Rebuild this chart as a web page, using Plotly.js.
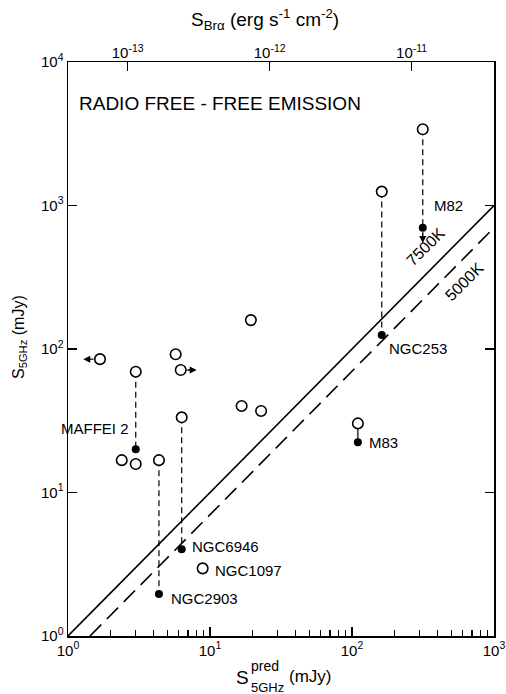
<!DOCTYPE html>
<html>
<head>
<meta charset="utf-8">
<script src="https://cdn.plot.ly/plotly-3.0.1.min.js"></script>
<style>html,body{margin:0;padding:0;background:#fff;}#chart{width:506px;height:694px;}</style>
</head>
<body>
<div id="chart"></div>
<script>
// ---- data ----
// open circles: predicted / observed pairs and single galaxies
const openX = [1.68, 3.0, 2.39, 3.0, 4.37, 6.32, 5.73, 6.22, 8.88, 16.7, 22.9, 19.4, 315, 162, 110];
const openY = [85, 69.5, 16.8, 15.8, 16.8, 33.4, 91.9, 71.4, 2.96, 40.1, 37.0, 159, 3400, 1250, 30.3];
// filled circles (corrected values) for named galaxies
const namedGal = ["MAFFEI 2", "NGC2903", "NGC6946", "M82", "NGC253", "M83"];
const filledX = [3.0, 4.37, 6.32, 315, 162, 110];
const filledY = [20.0, 1.96, 4.02, 700, 125, 22.4];
const filledFromOpenY = [69.5, 16.8, 33.4, 3400, 1250, 30.3];
const connectorDash = ["dash", "dash", "dash", "dash", "dash", "solid"];
// label for an open circle without a filled counterpart
const openLabelName = "NGC1097";
const openLabelX = 8.88, openLabelY = 2.96;
// limits (arrows)
const limitX = [1.68, 6.22, 315];
const limitY = [85, 71.4, 700];
const limitTipX = [1.28, 8.06, 315];
const limitTipY = [85, 71.4, 548];
// model lines
const modelX = [1, 1000];
const modelRatio = [1.0, 0.7];   // 7500 K, 5000 K
const modelName = ["7500K", "5000K"];
// tick labels
const xTickVals = [1, 10, 100, 1000];
const xTickText = ["10<sup>0</sup>", "10<sup>1</sup>", "10<sup>2</sup>", "10<sup>3</sup>"];
const yTickVals = [1, 10, 100, 1000, 10000];
const yTickText = ["10<sup>0</sup>", "10<sup>1</sup>", "10<sup>2</sup>", "10<sup>3</sup>", "10<sup>4</sup>"];
const topTickVals = [1e-13, 1e-12, 1e-11];
const topTickText = ["10<sup>-13</sup>", "10<sup>-12</sup>", "10<sup>-11</sup>"];
const xMinor = [2,3,4,5,6,7,8,9,20,30,40,50,60,70,80,90,200,300,400,500,600,700,800,900];

// ---- build ----
const FONT = "Liberation Sans, Arial, sans-serif";
const traces = [];
modelRatio.forEach((r, i) => {
  const x0 = Math.max(modelX[0], modelX[0] / r);
  traces.push({
    x: [x0, modelX[1]], y: [x0 * r, modelX[1] * r], mode: "lines", type: "scatter",
    line: {color: "#000", width: 1.6, dash: i === 0 ? "solid" : "16px,8px"},
    hoverinfo: "skip", showlegend: false
  });
});
filledX.forEach((x, i) => {
  traces.push({
    x: [x, x], y: [filledFromOpenY[i], filledY[i]], mode: "lines", type: "scatter",
    line: {color: "#000", width: 1.2, dash: connectorDash[i] === "dash" ? "6px,4px" : "solid"},
    showlegend: false, hoverinfo: "skip"
  });
});
traces.push({
  x: openX, y: openY, mode: "markers", type: "scatter",
  marker: {symbol: "circle", size: 10.5, color: "#fff", line: {color: "#000", width: 1.6}},
  showlegend: false
});
traces.push({
  x: filledX, y: filledY, mode: "markers", type: "scatter",
  marker: {symbol: "circle", size: 8, color: "#000"},
  showlegend: false
});
// top axis dummy trace
traces.push({x: topTickVals, y: [1, 1, 1], xaxis: "x2", yaxis: "y", mode: "markers",
  marker: {opacity: 0}, showlegend: false, hoverinfo: "skip"});

const L = Math.log10;
const annotations = [];
// limit arrows
limitX.forEach((x, i) => {
  annotations.push({
    x: L(limitTipX[i]), y: L(limitTipY[i]), ax: L(x), ay: L(limitY[i]),
    xref: "x", yref: "y", axref: "x", ayref: "y", text: "", showarrow: true,
    arrowhead: 2, arrowsize: 1, arrowwidth: 1.4, arrowcolor: "#000", startstandoff: i === 2 ? 3 : 5
  });
});
// galaxy labels (offsets in pixels)
const labelShift = {
  "MAFFEI 2": [-5, 21, "right"], "NGC2903": [10, -4, "left"], "NGC6946": [8, 3, "left"],
  "M82": [9, 22, "left"], "NGC253": [5, -13, "left"], "M83": [9, 0, "left"]
};
const LBL = {family: FONT, size: 15, color: "#000"};
namedGal.forEach((n, i) => {
  const s = labelShift[n];
  annotations.push({
    x: L(filledX[i]), y: L(filledY[i]), xref: "x", yref: "y", text: n, showarrow: false,
    xanchor: s[2], yanchor: "middle", xshift: s[0], yshift: s[1], font: LBL
  });
});
annotations.push({
  x: L(openLabelX), y: L(openLabelY), xref: "x", yref: "y", text: openLabelName, showarrow: false,
  xanchor: "left", yanchor: "middle", xshift: 10, yshift: -2, font: LBL
});
// model labels
annotations.push({
  x: L(450), y: L(450 * modelRatio[0]), xref: "x", yref: "y", text: modelName[0], showarrow: false,
  textangle: -45, xshift: -19, yshift: 9, font: {family: FONT, size: 16, color: "#000"}
});
annotations.push({
  x: L(600), y: L(600 * modelRatio[1]), xref: "x", yref: "y", text: modelName[1], showarrow: false,
  textangle: -45, xshift: 2, yshift: -22, font: {family: FONT, size: 16, color: "#000"}
});
// chart text
annotations.push({
  x: (77 - 68) / 426, y: (636 - 104) / 574, xref: "paper", yref: "paper", text: "RADIO FREE - FREE EMISSION",
  showarrow: false, xanchor: "left", yanchor: "middle", font: {family: FONT, size: 19, color: "#000"}
});
// axis titles
annotations.push({
  x: (265 - 68) / 426, y: (636 - 20) / 574, xref: "paper", yref: "paper",
  text: "S<sub>Brα</sub> (erg s<sup>-1</sup> cm<sup>-2</sup>)", showarrow: false,
  xanchor: "center", yanchor: "middle", font: {family: FONT, size: 19, color: "#000"}
});
annotations.push({
  x: (20 - 68) / 426, y: (636 - 337) / 574, xref: "paper", yref: "paper",
  text: "S<sub>5GHz</sub> (mJy)", showarrow: false, textangle: -90,
  xanchor: "center", yanchor: "middle", font: {family: FONT, size: 16, color: "#000"}
});
annotations.push({
  x: (242 - 68) / 426, y: (636 - 677) / 574, xref: "paper", yref: "paper",
  text: "S", showarrow: false, xanchor: "center", yanchor: "middle",
  font: {family: FONT, size: 19, color: "#000"}
});
annotations.push({
  x: (249 - 68) / 426, y: (636 - 666) / 574, xref: "paper", yref: "paper",
  text: "pred", showarrow: false, xanchor: "left", yanchor: "middle",
  font: {family: FONT, size: 14, color: "#000"}
});
annotations.push({
  x: (249 - 68) / 426, y: (636 - 687) / 574, xref: "paper", yref: "paper",
  text: "5GHz", showarrow: false, xanchor: "left", yanchor: "middle",
  font: {family: FONT, size: 13, color: "#000"}
});
annotations.push({
  x: (287 - 68) / 426, y: (636 - 676) / 574, xref: "paper", yref: "paper",
  text: "(mJy)", showarrow: false, xanchor: "left", yanchor: "middle",
  font: {family: FONT, size: 17, color: "#000"}
});

const axisCommon = {
  showgrid: false, zeroline: false, showline: true, linecolor: "#000", linewidth: 1.5,
  ticks: "inside", ticklen: 9, tickwidth: 1.3, tickcolor: "#000",
  tickfont: {family: FONT, size: 15, color: "#000"}
};
const layout = {
  width: 506, height: 694,
  margin: {l: 68, r: 12, t: 62, b: 58},
  paper_bgcolor: "#fff", plot_bgcolor: "#fff",
  showlegend: false,
  xaxis: Object.assign({}, axisCommon, {
    type: "log", range: [0, 3], tickmode: "array", tickvals: xTickVals, ticktext: xTickText,
    mirror: true,
    minor: {tickmode: "array", tickvals: xMinor, ticks: "inside", ticklen: 6, tickwidth: 1.2, tickcolor: "#000", showgrid: false}
  }),
  xaxis2: Object.assign({}, axisCommon, {
    type: "log", range: [-13.42, -10.42], overlaying: "x", side: "top", anchor: "y",
    tickmode: "array", tickvals: topTickVals, ticktext: topTickText, showline: false
  }),
  yaxis: Object.assign({}, axisCommon, {
    type: "log", range: [0, 4], tickmode: "array", tickvals: yTickVals, ticktext: yTickText,
    mirror: "ticks"
  }),
  annotations: annotations
};
Plotly.newPlot("chart", traces, layout, {staticPlot: true, displayModeBar: false});
</script>
</body>
</html>
